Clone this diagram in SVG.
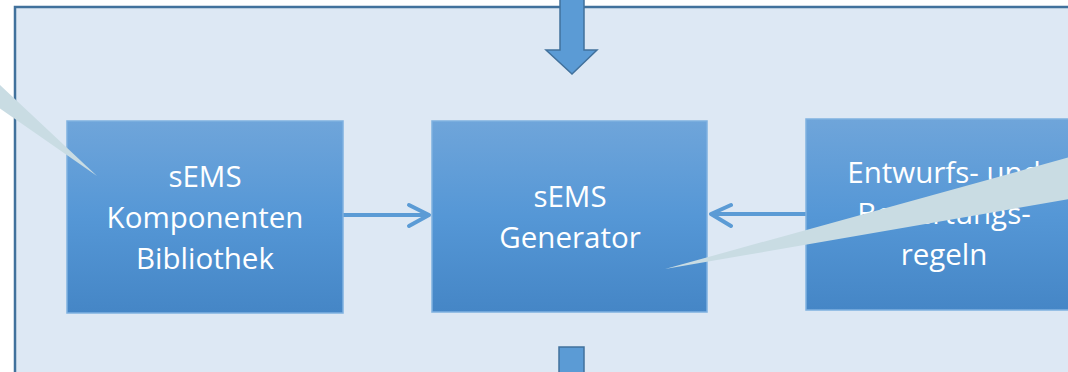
<svg xmlns="http://www.w3.org/2000/svg" width="1068" height="372" viewBox="0 0 1068 372">
<defs>
<linearGradient id="g" x1="0" y1="0" x2="0" y2="1">
<stop offset="0" stop-color="#6fa5da"/>
<stop offset="0.5" stop-color="#5597d6"/>
<stop offset="1" stop-color="#4586c6"/>
</linearGradient>
<style>
.box{fill:url(#g);stroke:#7fb1e0;stroke-width:1.5}
.t{font-family:"Open Sans","Liberation Sans",sans-serif;font-size:29.5px;fill:#ffffff;text-anchor:middle}
.conn{fill:none;stroke:#5b9bd5;stroke-width:4;stroke-linecap:round;stroke-linejoin:round}
.big{fill:#5b9bd5;stroke:#41719c;stroke-width:1.5}
.wedge{fill:#c9dce3}
</style>
</defs>
<rect x="0" y="0" width="1068" height="372" fill="#ffffff"/>
<g id="container">
<rect x="15" y="7" width="1080" height="400" fill="#dde8f4" stroke="#41719c" stroke-width="2.5"/>
</g>
<g id="input-arrow">
<polygon class="big" points="560,-5 584,-5 584,50 597,50 572,74 546,50 560,50"/>
</g>
<g id="output-arrow">
<rect class="big" x="559" y="347" width="25" height="40"/>
</g>
<g id="connectors">
<path class="conn" d="M343,215 H428 M409,205 L429,215 L409,226"/>
<path class="conn" d="M806,214 H711 M731,205 L711,214 L731,226"/>
</g>
<g id="node-bibliothek">
<rect class="box" x="67" y="121" width="276" height="192"/>
<text class="t" x="205" y="187">sEMS</text>
<text class="t" x="205" y="228">Komponenten</text>
<text class="t" x="205" y="269">Bibliothek</text>
</g>
<g id="node-generator">
<rect class="box" x="432" y="121" width="275" height="191"/>
<text class="t" x="570" y="207">sEMS</text>
<text class="t" x="570" y="248">Generator</text>
</g>
<g id="node-regeln">
<rect class="box" x="806" y="119" width="276" height="191"/>
<text class="t" x="944" y="183">Entwurfs- und</text>
<text class="t" x="944" y="224">Bewertungs-</text>
<text class="t" x="944" y="265">regeln</text>
</g>
<g id="callout-left">
<polygon class="wedge" points="-2,83 97,176 -2,107"/>
</g>
<g id="callout-right">
<polygon class="wedge" points="1070,157 1070,199 665,269"/>
</g>
</svg>
